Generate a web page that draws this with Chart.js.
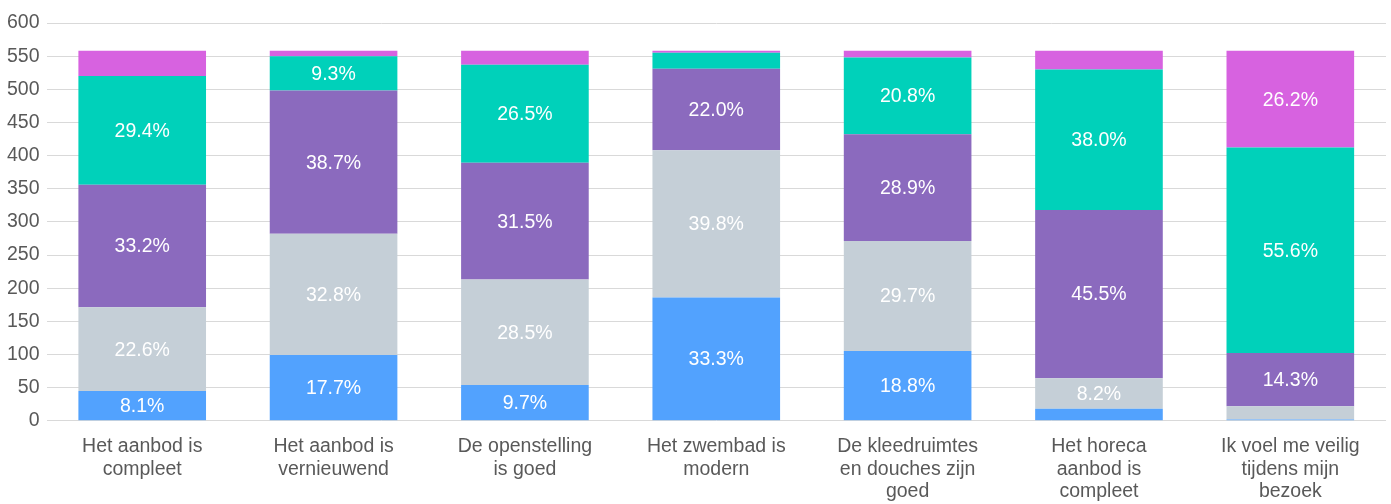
<!DOCTYPE html>
<html lang="nl">
<head>
<meta charset="UTF-8" />
<title>Stellingen</title>
<style>
  html, body { margin: 0; padding: 0; background: #fff; }
  #wrap { width: 1391px; height: 504px; }
</style>
<script src="https://cdn.jsdelivr.net/npm/chart.js"></script>
</head>
<body>
<div id="wrap"><canvas id="chart"></canvas></div>
<script>
  // categories (multi-line labels)
  const categories = [
    ["Het aanbod is", "compleet"],
    ["Het aanbod is", "vernieuwend"],
    ["De openstelling", "is goed"],
    ["Het zwembad is", "modern"],
    ["De kleedruimtes", "en douches zijn", "goed"],
    ["Het horeca", "aanbod is", "compleet"],
    ["Ik voel me veilig", "tijdens mijn", "bezoek"]
  ];

  // number of respondents per answer, bottom to top
  const seriesNames = ["Helemaal mee oneens", "Mee oneens", "Neutraal", "Mee eens", "Helemaal mee eens"];
  const s1 = [45, 99, 54, 186, 105, 18, 2];
  const s2 = [126, 183, 159, 222, 166, 46, 20];
  const s3 = [185, 216, 176, 123, 161, 254, 80];
  const s4 = [164, 52, 148, 24, 116, 212, 310];
  const s5 = [38, 8, 21, 3, 10, 28, 146];

  const colors = ["#52a2fe", "#c5cfd7", "#8b6abe", "#00d1ba", "#d762e0"];
  const yTicks = { min: 0, max: 600, step: 50 };

  const allSeries = [s1, s2, s3, s4, s5];
  const totals = categories.map((c, i) => allSeries.reduce((a, s) => a + s[i], 0));

  const font = "'Liberation Sans', Arial, sans-serif";

  const segmentLabels = {
    id: "segmentLabels",
    afterDatasetsDraw(chart) {
      const ctx = chart.ctx;
      ctx.save();
      ctx.fillStyle = "#ffffff";
      ctx.font = "19.5px " + font;
      ctx.textAlign = "center";
      ctx.textBaseline = "middle";
      chart.data.datasets.forEach((ds, di) => {
        const meta = chart.getDatasetMeta(di);
        meta.data.forEach((bar, i) => {
          const pct = ds.data[i] / totals[i] * 100;
          if (pct < 7.5) return;
          const p = bar.getProps(["x", "y", "base"], true);
          ctx.fillText(pct.toFixed(1) + "%", p.x, (p.y + p.base) / 2 + 1);
        });
      });
      ctx.restore();
    }
  };

  new Chart(document.getElementById("chart"), {
    type: "bar",
    data: {
      labels: categories,
      datasets: allSeries.map((s, i) => ({
        label: seriesNames[i],
        data: s,
        backgroundColor: colors[i],
        borderWidth: 0,
        barPercentage: 0.667,
        categoryPercentage: 1
      }))
    },
    options: {
      responsive: true,
      maintainAspectRatio: false,
      animation: false,
      layout: { padding: { top: 23, right: 5, left: 0, bottom: -14 } },
      scales: {
        x: {
          stacked: true,
          grid: { display: false, drawTicks: false },
          border: { display: false },
          ticks: {
            color: "#595959",
            font: { family: font, size: 19.5, lineHeight: 1.15 },
            padding: 15,
            maxRotation: 0,
            autoSkip: false
          }
        },
        y: {
          stacked: true,
          min: yTicks.min,
          max: yTicks.max,
          grid: { color: "#d9d9d9", drawTicks: false, lineWidth: 1 },
          border: { display: false },
          ticks: {
            stepSize: yTicks.step,
            color: "#595959",
            font: { family: font, size: 19.5 },
            padding: 7
          }
        }
      },
      plugins: {
        legend: { display: false },
        tooltip: { enabled: false }
      }
    },
    plugins: [segmentLabels]
  });
</script>
</body>
</html>
